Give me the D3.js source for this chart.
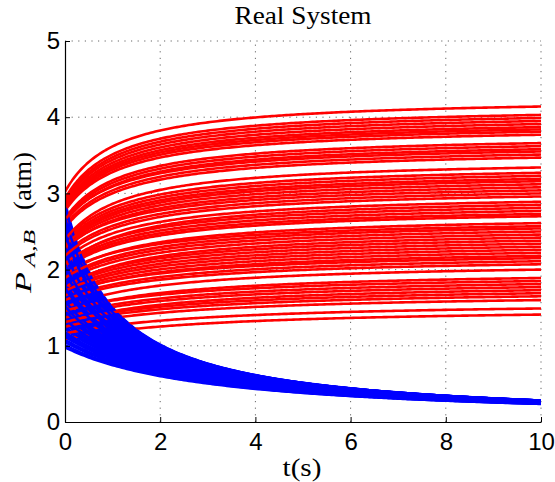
<!DOCTYPE html>
<html><head><meta charset="utf-8">
<script src="https://cdn.jsdelivr.net/npm/d3@7"></script>
<style>body{margin:0;background:#fff}svg{display:block}</style>
</head><body>
<svg id="chart" width="555" height="482"></svg>
<script>
// ---- data ----
const xTicks = [0, 2, 4, 6, 8, 10];
const yTicks = [0, 1, 2, 3, 4, 5];
// P_A (red) value at t = 0 for each run
const redStart = [2.38,3.02,1.29,2.03,1.62,2.79,1.39,2.21,1.79,2.85,1.09,1.97,2.62,1.69,2.29,1.44,2.90,1.84,2.04,1.30,2.67,1.69,2.55,2.01,1.16,2.33,1.74,2.83,1.50,2.13,2.65,1.87,1.37,2.26,2.88,1.66,2.05,1.25,2.77,2.35,1.77,1.46,2.58,1.93,2.93,1.60,2.29,1.76,2.65,1.31,2.08,2.31,1.72,2.81,1.89,2.39,2.18];
// P_A (red) value at t = 10 for each run
const redEnd = [3.27,4.14,1.65,2.73,2.11,3.81,1.81,3.00,2.38,3.91,1.41,2.57,3.58,2.22,3.12,1.89,3.99,2.46,2.85,1.73,3.66,2.15,3.47,2.70,1.49,3.19,2.30,3.87,2.00,2.89,3.55,2.50,1.77,3.08,3.95,2.18,2.77,1.60,3.77,3.23,2.34,1.85,3.51,2.61,4.03,2.07,3.04,2.42,3.62,1.69,2.81,3.16,2.26,3.84,2.54,3.34,2.96];
// P_B (blue) value at t = 0 for each run
const blueStart = [2.34,2.89,1.08,1.90,1.39,2.65,1.22,2.10,1.63,2.75,0.98,1.66,2.51,1.49,2.20,1.29,2.82,1.69,2.14,1.25,2.58,1.32,2.41,1.86,1.01,2.27,1.56,2.71,1.42,2.03,2.37,1.73,1.18,2.17,2.78,1.46,1.93,1.05,2.61,2.31,1.59,1.15,2.44,1.83,2.85,1.35,2.00,1.80,2.54,1.12,1.97,2.24,1.52,2.68,1.76,2.48,2.07];
// second-order decay rate of P_B (1/(atm*s))
const blueDecayRate = 0.32;
const tMax = 10, tStep = 0.05;

// ---- layout ----
const svg = d3.select('#chart');
const x = d3.scaleLinear().domain([0, 10]).range([65, 541]);
const y = d3.scaleLinear().domain([0, 5]).range([422, 41]);
const times = d3.range(0, tMax + tStep / 2, tStep);

// grid (behind data)
const grid = svg.append('g').attr('stroke', '#666').attr('stroke-width', 1)
  .attr('stroke-dasharray', '1.2,5.4').attr('fill', 'none');
grid.selectAll('line.v').data(xTicks.filter(d => d > 0)).join('line')
  .attr('x1', d => x(d)).attr('x2', d => x(d)).attr('y1', y(0)).attr('y2', y(5));
grid.selectAll('line.h').data(yTicks.filter(d => d > 0)).join('line')
  .attr('x1', x(0)).attr('x2', x(10)).attr('y1', d => y(d)).attr('y2', d => y(d));

svg.append('defs').append('clipPath').attr('id', 'clip')
  .append('rect').attr('x', x(0)).attr('y', y(5)).attr('width', x(10) - x(0)).attr('height', y(0) - y(5));

const line = d3.line().x(d => x(d[0])).y(d => y(d[1]));
const blueAt = (b0, t) => b0 / (1 + blueDecayRate * b0 * t);

const runs = svg.append('g').attr('clip-path', 'url(#clip)').attr('fill', 'none')
  .attr('stroke-width', 2.6).attr('stroke-linejoin', 'round');
redStart.forEach((rs, i) => {
  const re = redEnd[i], b0 = blueStart[i];
  const bEnd = blueAt(b0, tMax);
  const redPts = times.map(t => [t, rs + (re - rs) * (b0 - blueAt(b0, t)) / (b0 - bEnd)]);
  const bluePts = times.map(t => [t, blueAt(b0, t)]);
  runs.append('path').attr('d', line(redPts)).attr('stroke', '#ff0000');
  runs.append('path').attr('d', line(bluePts)).attr('stroke', '#0000ff');
});

// axes
const tickFont = '"Liberation Sans", Arial, Helvetica, sans-serif';
const ax = svg.append('g').attr('transform', `translate(0,${y(0)})`)
  .call(d3.axisBottom(x).tickValues(xTicks).tickSize(-5).tickSizeOuter(0).tickPadding(11).tickFormat(d3.format('d')));
const ay = svg.append('g').attr('transform', `translate(${x(0)},0)`)
  .call(d3.axisLeft(y).tickValues(yTicks).tickSize(-5).tickSizeOuter(0).tickPadding(5).tickFormat(d3.format('d')));
[ax, ay].forEach(g => {
  g.select('.domain').attr('stroke', '#000').attr('stroke-width', 1.2);
  g.selectAll('.tick line').attr('stroke', '#000');
  g.selectAll('.tick text').attr('fill', '#000').style('font-family', tickFont).style('font-size', '24px');
});
ax.selectAll('.tick text').attr('dy', '0.71em');

// title and labels
const serif = '"Liberation Serif", "Times New Roman", serif';
svg.append('text').attr('x', 303).attr('y', 23.5).attr('text-anchor', 'middle')
  .attr('textLength', 137).attr('lengthAdjust', 'spacingAndGlyphs')
  .style('font-family', serif).style('font-size', '25px').text('Real System');
svg.append('text').attr('x', 302).attr('y', 476).attr('text-anchor', 'middle')
  .attr('textLength', 39).attr('lengthAdjust', 'spacingAndGlyphs')
  .style('font-family', serif).style('font-size', '25px').text('t(s)');

const yl = svg.append('g');
yl.append('text').attr('transform', 'translate(31,293) rotate(-90)')
  .style('font-family', serif).style('font-size', '24px').style('font-style', 'italic')
  .attr('textLength', 21).attr('lengthAdjust', 'spacingAndGlyphs').text('P');
yl.append('text').attr('transform', 'translate(35,267) rotate(-90)')
  .style('font-family', serif).style('font-size', '17px').style('font-style', 'italic')
  .attr('textLength', 37).attr('lengthAdjust', 'spacingAndGlyphs').text('A,B');
yl.append('text').attr('transform', 'translate(31,210) rotate(-90)')
  .style('font-family', serif).style('font-size', '25px')
  .attr('textLength', 58).attr('lengthAdjust', 'spacingAndGlyphs').text('(atm)');
</script>
</body></html>
